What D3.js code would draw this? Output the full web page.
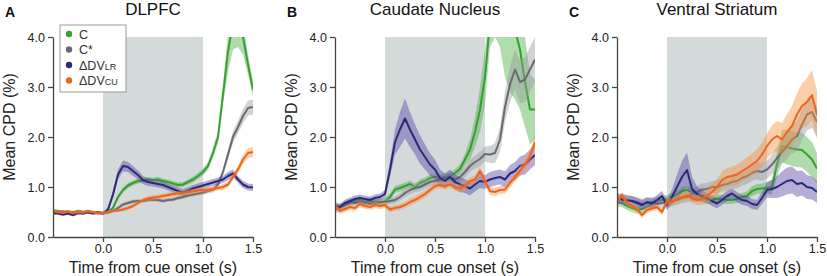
<!DOCTYPE html>
<html>
<head>
<meta charset="utf-8">
<script src="https://cdn.jsdelivr.net/npm/d3@7"></script>
<style>
  body { margin: 0; background: #fff; }
  svg { font-family: "Liberation Sans", Arial, sans-serif; }
</style>
</head>
<body>
<svg id="chart" width="827" height="276"></svg>
<script>
// time grid (s from cue onset)
var time = [-0.5, -0.45, -0.4, -0.35, -0.3, -0.25, -0.2, -0.15, -0.1, -0.05,
    0, 0.05, 0.1, 0.15, 0.2, 0.25, 0.3, 0.35, 0.4, 0.45,
    0.5, 0.55, 0.6, 0.65, 0.7, 0.75, 0.8, 0.85, 0.9, 0.95,
    1, 1.05, 1.1, 1.15, 1.2, 1.25, 1.3, 1.35, 1.4, 1.45, 1.5];
var xTicks = [0, 0.5, 1, 1.5];
var yTicks = [0, 1, 2, 3, 4];
var cueWindow = [0, 1];
var panelLetters = ['A', 'B', 'C'];
var panelTitles = ['DLPFC', 'Caudate Nucleus', 'Ventral Striatum'];

// DLPFC
var dlpfcC = [0.53, 0.52, 0.50, 0.51, 0.49, 0.52, 0.50, 0.51, 0.49, 0.48,
    0.48, 0.50, 0.58, 0.80, 0.94, 1.03, 1.08, 1.12, 1.13, 1.15,
    1.14, 1.15, 1.12, 1.10, 1.07, 1.04, 1.05, 1.10, 1.15, 1.22,
    1.30, 1.42, 1.68, 2.00, 2.85, 3.70, 4.30, 4.40, 4.00, 3.45, 2.95];
var dlpfcCSem = [0.03, 0.03, 0.03, 0.03, 0.03, 0.03, 0.03, 0.03, 0.03, 0.03,
    0.03, 0.03, 0.04, 0.05, 0.05, 0.05, 0.05, 0.05, 0.05, 0.05,
    0.05, 0.05, 0.05, 0.05, 0.05, 0.05, 0.05, 0.05, 0.06, 0.06,
    0.07, 0.08, 0.10, 0.12, 0.20, 0.40, 0.55, 0.60, 0.35, 0.20, 0.15];
var dlpfcCstar = [0.52, 0.50, 0.51, 0.49, 0.50, 0.48, 0.50, 0.49, 0.47, 0.49,
    0.48, 0.49, 0.52, 0.58, 0.65, 0.68, 0.71, 0.72, 0.72, 0.74,
    0.75, 0.74, 0.72, 0.74, 0.75, 0.78, 0.80, 0.83, 0.85, 0.87,
    0.89, 0.92, 0.95, 1.05, 1.30, 1.65, 2.00, 2.20, 2.42, 2.58, 2.60];
var dlpfcCstarSem = [0.03, 0.03, 0.03, 0.03, 0.03, 0.03, 0.03, 0.03, 0.03, 0.03,
    0.03, 0.03, 0.03, 0.04, 0.04, 0.04, 0.04, 0.04, 0.04, 0.04,
    0.04, 0.04, 0.04, 0.04, 0.04, 0.04, 0.04, 0.04, 0.04, 0.04,
    0.05, 0.05, 0.06, 0.07, 0.08, 0.10, 0.12, 0.13, 0.15, 0.15, 0.15];
var dlpfcLR = [0.48, 0.47, 0.45, 0.47, 0.44, 0.48, 0.47, 0.50, 0.48, 0.49,
    0.47, 0.55, 0.85, 1.25, 1.42, 1.40, 1.32, 1.24, 1.14, 1.10,
    1.08, 1.06, 1.04, 1.00, 0.96, 0.92, 0.89, 0.93, 0.97, 1.00,
    1.03, 1.06, 1.09, 1.12, 1.15, 1.22, 1.27, 1.15, 1.05, 1.00, 0.99];
var dlpfcLRSem = [0.03, 0.03, 0.03, 0.03, 0.03, 0.03, 0.03, 0.03, 0.03, 0.03,
    0.03, 0.05, 0.07, 0.10, 0.11, 0.10, 0.10, 0.09, 0.08, 0.08,
    0.07, 0.07, 0.07, 0.07, 0.07, 0.07, 0.07, 0.07, 0.07, 0.07,
    0.07, 0.07, 0.07, 0.07, 0.07, 0.08, 0.08, 0.07, 0.07, 0.07, 0.07];
var dlpfcCU = [0.52, 0.50, 0.49, 0.51, 0.48, 0.50, 0.49, 0.52, 0.50, 0.47,
    0.48, 0.50, 0.52, 0.53, 0.55, 0.58, 0.62, 0.68, 0.74, 0.77,
    0.79, 0.80, 0.82, 0.84, 0.86, 0.87, 0.88, 0.90, 0.91, 0.93,
    0.94, 0.95, 0.96, 0.98, 1.00, 1.05, 1.20, 1.35, 1.55, 1.68, 1.70];
var dlpfcCUSem = [0.03, 0.03, 0.03, 0.03, 0.03, 0.03, 0.03, 0.03, 0.03, 0.03,
    0.03, 0.03, 0.03, 0.03, 0.04, 0.04, 0.04, 0.04, 0.04, 0.05,
    0.05, 0.05, 0.05, 0.05, 0.05, 0.05, 0.05, 0.05, 0.05, 0.05,
    0.05, 0.05, 0.05, 0.05, 0.06, 0.06, 0.07, 0.08, 0.09, 0.10, 0.10];

// Caudate nucleus
var caudC = [0.55, 0.58, 0.63, 0.68, 0.72, 0.74, 0.70, 0.72, 0.70, 0.68,
    0.72, 0.80, 0.95, 0.98, 1.02, 1.06, 1.00, 1.08, 1.12, 1.18,
    1.20, 1.18, 1.20, 1.22, 1.28, 1.36, 1.55, 1.75, 2.10, 2.55,
    3.20, 4.30, 4.60, 4.70, 4.60, 4.40, 4.15, 3.75, 3.10, 2.55, 2.55];
var caudCSem = [0.07, 0.07, 0.07, 0.07, 0.07, 0.07, 0.07, 0.07, 0.07, 0.07,
    0.07, 0.07, 0.07, 0.07, 0.07, 0.07, 0.07, 0.07, 0.07, 0.07,
    0.07, 0.07, 0.07, 0.07, 0.08, 0.09, 0.12, 0.20, 0.30, 0.45,
    0.55, 0.50, 0.60, 0.90, 1.40, 1.50, 1.40, 1.20, 0.90, 0.70, 0.60];
var caudCstar = [0.60, 0.60, 0.65, 0.70, 0.68, 0.70, 0.68, 0.66, 0.68, 0.70,
    0.70, 0.72, 0.74, 0.80, 0.88, 0.94, 0.98, 1.00, 1.05, 1.10,
    1.12, 1.15, 1.18, 1.20, 1.15, 1.20, 1.30, 1.42, 1.50, 1.56,
    1.66, 1.65, 1.68, 1.95, 2.60, 3.05, 3.35, 3.10, 3.15, 3.35, 3.55];
var caudCstarSem = [0.06, 0.06, 0.06, 0.06, 0.06, 0.06, 0.06, 0.06, 0.06, 0.06,
    0.06, 0.06, 0.07, 0.07, 0.08, 0.08, 0.08, 0.08, 0.08, 0.08,
    0.08, 0.08, 0.08, 0.08, 0.09, 0.10, 0.11, 0.12, 0.13, 0.14,
    0.15, 0.17, 0.20, 0.25, 0.30, 0.35, 0.40, 0.42, 0.45, 0.45, 0.45];
var caudLR = [0.62, 0.60, 0.68, 0.72, 0.76, 0.78, 0.76, 0.74, 0.78, 0.80,
    0.86, 1.35, 1.90, 2.15, 2.37, 2.15, 1.95, 1.75, 1.60, 1.45,
    1.35, 1.18, 1.12, 1.20, 1.10, 1.05, 1.02, 0.97, 1.05, 1.12,
    1.10, 1.15, 1.18, 1.20, 1.15, 1.27, 1.32, 1.42, 1.45, 1.55, 1.64];
var caudLRSem = [0.07, 0.07, 0.07, 0.07, 0.07, 0.07, 0.07, 0.07, 0.07, 0.07,
    0.08, 0.15, 0.25, 0.35, 0.40, 0.35, 0.30, 0.28, 0.25, 0.22,
    0.20, 0.17, 0.15, 0.15, 0.15, 0.15, 0.14, 0.14, 0.14, 0.14,
    0.14, 0.15, 0.15, 0.15, 0.16, 0.17, 0.18, 0.19, 0.20, 0.20, 0.20];
var caudCU = [0.62, 0.52, 0.56, 0.60, 0.58, 0.66, 0.62, 0.60, 0.64, 0.62,
    0.64, 0.55, 0.58, 0.60, 0.64, 0.70, 0.74, 0.80, 0.86, 0.94,
    1.02, 1.04, 1.02, 1.05, 1.00, 0.97, 1.02, 1.12, 1.15, 1.32,
    1.12, 0.92, 0.90, 0.94, 0.95, 1.08, 1.20, 1.32, 1.45, 1.62, 1.90];
var caudCUSem = [0.06, 0.06, 0.06, 0.06, 0.06, 0.06, 0.06, 0.06, 0.06, 0.06,
    0.06, 0.06, 0.06, 0.06, 0.06, 0.07, 0.07, 0.07, 0.07, 0.07,
    0.07, 0.07, 0.07, 0.07, 0.07, 0.08, 0.08, 0.08, 0.08, 0.08,
    0.08, 0.08, 0.08, 0.08, 0.08, 0.09, 0.09, 0.10, 0.11, 0.12, 0.12];

// Ventral striatum
var ventC = [0.70, 0.68, 0.62, 0.58, 0.54, 0.56, 0.60, 0.66, 0.72, 0.74,
    0.76, 0.80, 0.84, 0.92, 0.94, 0.90, 0.85, 0.80, 0.74, 0.75,
    0.77, 0.76, 0.74, 0.74, 0.76, 0.80, 0.82, 0.92, 0.96, 0.97,
    0.98, 1.00, 1.45, 1.82, 1.80, 1.77, 1.75, 1.74, 1.65, 1.55, 1.37];
var ventCSem = [0.08, 0.08, 0.08, 0.08, 0.08, 0.08, 0.08, 0.08, 0.08, 0.08,
    0.08, 0.08, 0.08, 0.08, 0.08, 0.08, 0.08, 0.08, 0.08, 0.08,
    0.08, 0.08, 0.08, 0.08, 0.08, 0.08, 0.09, 0.10, 0.10, 0.10,
    0.12, 0.15, 0.25, 0.32, 0.35, 0.35, 0.35, 0.35, 0.35, 0.35, 0.30];
var ventCstar = [0.75, 0.78, 0.74, 0.72, 0.70, 0.66, 0.68, 0.70, 0.66, 0.68,
    0.70, 0.72, 0.74, 0.78, 0.80, 0.86, 0.90, 0.95, 0.96, 1.00,
    1.00, 1.04, 1.06, 1.10, 1.12, 1.18, 1.22, 1.28, 1.32, 1.30,
    1.35, 1.45, 1.58, 1.70, 1.82, 1.95, 2.02, 2.25, 2.45, 2.50, 2.30];
var ventCstarSem = [0.10, 0.10, 0.10, 0.10, 0.10, 0.10, 0.10, 0.10, 0.10, 0.10,
    0.10, 0.10, 0.10, 0.10, 0.11, 0.11, 0.12, 0.12, 0.12, 0.12,
    0.13, 0.13, 0.14, 0.14, 0.15, 0.15, 0.16, 0.16, 0.17, 0.18,
    0.18, 0.20, 0.22, 0.24, 0.26, 0.28, 0.30, 0.30, 0.32, 0.32, 0.30];
var ventLR = [0.77, 0.75, 0.73, 0.72, 0.68, 0.64, 0.70, 0.67, 0.74, 0.82,
    0.64, 0.80, 1.00, 1.20, 1.34, 0.96, 0.86, 0.82, 0.78, 0.72,
    0.67, 0.74, 0.82, 0.87, 0.80, 0.74, 0.72, 0.66, 0.64, 0.78,
    0.94, 0.96, 1.00, 1.06, 1.12, 1.14, 1.06, 1.08, 1.00, 0.98, 0.90];
var ventLRSem = [0.10, 0.10, 0.10, 0.10, 0.10, 0.10, 0.10, 0.10, 0.10, 0.10,
    0.10, 0.15, 0.25, 0.32, 0.35, 0.25, 0.15, 0.12, 0.10, 0.10,
    0.10, 0.10, 0.10, 0.10, 0.10, 0.10, 0.10, 0.10, 0.10, 0.12,
    0.15, 0.18, 0.22, 0.25, 0.27, 0.27, 0.26, 0.25, 0.24, 0.23, 0.22];
var ventCU = [0.68, 0.84, 0.68, 0.62, 0.56, 0.44, 0.54, 0.57, 0.60, 0.50,
    0.72, 0.70, 0.76, 0.80, 0.83, 0.78, 0.74, 0.76, 0.82, 0.90,
    1.00, 1.14, 1.20, 1.22, 1.25, 1.32, 1.38, 1.45, 1.52, 1.65,
    1.82, 1.95, 2.02, 1.95, 2.10, 2.22, 2.45, 2.62, 2.70, 2.84, 2.44];
var ventCUSem = [0.06, 0.06, 0.06, 0.06, 0.06, 0.06, 0.06, 0.06, 0.06, 0.06,
    0.07, 0.08, 0.08, 0.09, 0.09, 0.10, 0.10, 0.12, 0.14, 0.15,
    0.16, 0.17, 0.18, 0.19, 0.20, 0.20, 0.21, 0.22, 0.23, 0.24,
    0.25, 0.28, 0.30, 0.33, 0.36, 0.40, 0.42, 0.45, 0.48, 0.50, 0.48];

var lineColor = ['#34a02f', '#6a6b6d', '#2b2a78', '#f0631f'];
var bandColor = ['#4fb04a', '#9a9c9e', '#5a4aa6', '#f3923f'];

var panels = [
    { means: [dlpfcC, dlpfcCstar, dlpfcLR, dlpfcCU], sems: [dlpfcCSem, dlpfcCstarSem, dlpfcLRSem, dlpfcCUSem] },
    { means: [caudC, caudCstar, caudLR, caudCU], sems: [caudCSem, caudCstarSem, caudLRSem, caudCUSem] },
    { means: [ventC, ventCstar, ventLR, ventCU], sems: [ventCSem, ventCstarSem, ventLRSem, ventCUSem] }
];

var svg = d3.select('#chart');
var w = 200, h = 200, top0 = 37, left0 = 53, step = 282;

var x = d3.scaleLinear().domain([-0.5, 1.5]).range([0, w]);
var y = d3.scaleLinear().domain([0, 4]).range([h, 0]);

svg.append('defs').append('clipPath').attr('id', 'plotclip')
    .append('rect').attr('x', 0).attr('y', 0).attr('width', w).attr('height', h);

panels.forEach((p, pi) => {
    var g = svg.append('g').attr('transform', 'translate(' + (left0 + step * pi) + ',' + top0 + ')');

    // cue window
    g.append('rect')
        .attr('x', x(cueWindow[0]))
        .attr('y', y(4))
        .attr('width', x(cueWindow[1]) - x(cueWindow[0]))
        .attr('height', y(0) - y(4))
        .attr('fill', '#d4d9da');

    var plot = g.append('g').attr('clip-path', 'url(#plotclip)');

    p.means.forEach((m, si) => {
        var s = p.sems[si];
        var area = d3.area()
            .x((d, i) => x(time[i]))
            .y0((d, i) => y(d - s[i]))
            .y1((d, i) => y(d + s[i]));
        var line = d3.line()
            .x((d, i) => x(time[i]))
            .y(d => y(d));
        plot.append('path')
            .datum(m)
            .attr('d', area)
            .attr('fill', bandColor[si])
            .attr('fill-opacity', 0.45);
        plot.append('path')
            .datum(m)
            .attr('d', line)
            .attr('fill', 'none')
            .attr('stroke', lineColor[si])
            .attr('stroke-width', 2)
            .attr('stroke-linejoin', 'round');
    });

    // axes
    var xa = g.append('g').attr('transform', 'translate(0,' + h + ')')
        .call(d3.axisBottom(x).tickValues(xTicks).tickFormat(d3.format('.1f')).tickSize(5).tickPadding(2).tickSizeOuter(0));
    var ya = g.append('g')
        .call(d3.axisLeft(y).tickValues(yTicks).tickFormat(d3.format('.1f')).tickSize(5).tickPadding(3).tickSizeOuter(0));
    [xa, ya].forEach(a => {
        a.selectAll('path, line').attr('stroke', '#444').attr('stroke-width', 1.3);
        a.selectAll('text').attr('fill', '#222').style('font-size', '12.5px')
            .style('font-family', '"Liberation Sans", Arial, sans-serif');
    });

    g.append('text')
        .attr('x', w / 2)
        .attr('y', 236)
        .attr('text-anchor', 'middle')
        .attr('fill', '#222')
        .style('font-size', '16px')
        .text('Time from cue onset (s)');

    g.append('text')
        .attr('transform', 'translate(-38,' + (90) + ') rotate(-90)')
        .attr('text-anchor', 'middle')
        .attr('fill', '#222')
        .style('font-size', '16px')
        .text('Mean CPD (%)');

    g.append('text')
        .attr('x', w / 2)
        .attr('y', -22)
        .attr('text-anchor', 'middle')
        .attr('fill', '#111')
        .style('font-size', '17px')
        .text(panelTitles[pi]);

    g.append('text')
        .attr('x', -48)
        .attr('y', -20)
        .attr('fill', '#111')
        .style('font-size', '14px')
        .style('font-weight', 'bold')
        .text(panelLetters[pi]);
});

// legend (panel A)
var leg = svg.append('g').attr('transform', 'translate(60,25)');
leg.append('rect')
    .attr('width', 66).attr('height', 67)
    .attr('fill', '#fff').attr('stroke', '#999').attr('stroke-width', 1);
var labels = [['C', ''], ['C*', ''], ['\u0394DV', 'LR'], ['\u0394DV', 'CU']];
labels.forEach((l, i) => {
    var row = leg.append('g').attr('transform', 'translate(0,' + (9 + i * 15.5) + ')');
    row.append('circle').attr('cx', 9).attr('cy', 0).attr('r', 3.2).attr('fill', lineColor[i]);
    var t = row.append('text').attr('x', 19).attr('y', 4.5)
        .attr('fill', '#333').style('font-size', '12.5px').text(l[0]);
    if (l[1]) t.append('tspan').style('font-size', '9px').text(l[1]);
});
</script>
</body>
</html>
